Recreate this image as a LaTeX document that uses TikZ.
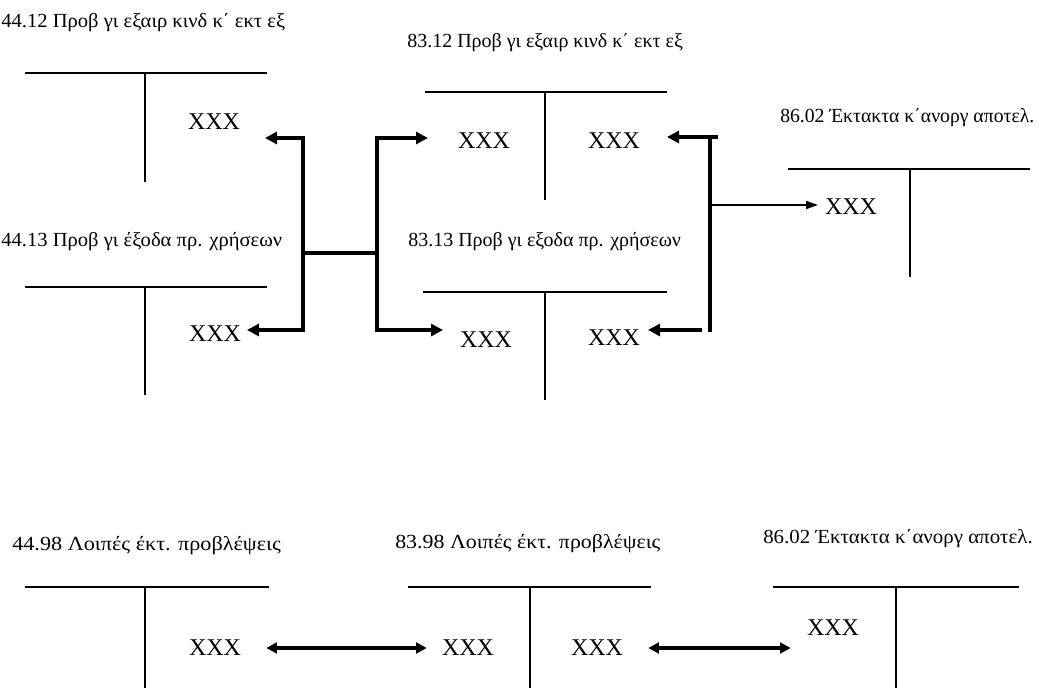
\documentclass[tikz,border=0pt]{standalone}
\usepackage{fontspec}
\usepackage{graphicx}
\setmainfont{Liberation Serif}
\usetikzlibrary{arrows.meta}
% horizontally widened title text
\newcommand\widetitle[2]{\scalebox{#1}[1]{#2}}
\begin{document}
\begin{tikzpicture}[x=0.75pt,y=-0.75pt,
  acct/.style={line width=1.1pt},
  acctv/.style={line width=0.9pt},
  lbl/.style={anchor=base west,inner sep=0pt,font=\fontsize{15}{17}\selectfont},
  amt/.style={inner sep=0pt,font=\fontsize{18}{20}\selectfont},
  bar/.style={line width=3.6pt},
  bararrow/.style={line width=3.6pt,-{Triangle[length=9pt,width=9pt]}},
  duo/.style={line width=3pt,{Triangle[length=8pt,width=8pt]}-{Triangle[length=8pt,width=8pt]}},
  thinarrow/.style={line width=1.2pt,-{Triangle[length=9pt,width=6pt]}}]
\useasboundingbox (0,0) rectangle (1040,688);
\fill[white] (0,0) rectangle (1040,688);

% ---- account titles
\node[lbl] (l1) at (1,28) {\widetitle{1.03}{44.12 Προβ γι εξαιρ κινδ κ΄ εκτ εξ}};
\node[lbl] (l2) at (407,48) {83.12 Προβ γι εξαιρ κινδ κ΄ εκτ εξ};
\node[lbl] (l3) at (780,123) {\widetitle{0.985}{86.02 Έκτακτα κ΄ανοργ αποτελ.}};
\node[lbl] (l4) at (1,247) {\widetitle{1.03}{44.13 Προβ γι έξοδα πρ. χρήσεων}};
\node[lbl] (l5) at (408,247) {83.13 Προβ γι εξοδα πρ. χρήσεων};
\node[lbl] (l6) at (12,550) {\widetitle{1.11}{44.98 Λοιπές έκτ. προβλέψεις}};
\node[lbl] (l7) at (395,548) {\widetitle{1.095}{83.98 Λοιπές έκτ. προβλέψεις}};
\node[lbl] (l8) at (763,543) {\widetitle{1.045}{86.02 Έκτακτα κ΄ανοργ αποτελ.}};

% ---- T-accounts
\draw[acct] (25,73) -- (267,73);   \draw[acctv] (145,73) -- (145,182);
\draw[acct] (425,92) -- (667,92);  \draw[acctv] (545,92) -- (545,200);
\draw[acct] (788,169) -- (1030,169); \draw[acctv] (910,169) -- (910,277);
\draw[acct] (25,287) -- (267,287); \draw[acctv] (145,287) -- (145,395);
\draw[acct] (423,292) -- (667,292); \draw[acctv] (545,292) -- (545,400);
\draw[acct] (25,587) -- (269,587); \draw[acctv] (145,587) -- (145,690);
\draw[acct] (408,587) -- (651,587); \draw[acctv] (530,587) -- (530,690);
\draw[acct] (773,587) -- (1019,587); \draw[acctv] (896,587) -- (896,690);

% ---- amounts
\node[amt] (a1) at (214,122) {XXX};
\node[amt] (a2) at (215,334) {XXX};
\node[amt] (b1) at (484,141) {XXX};
\node[amt] (b2) at (614,141) {XXX};
\node[amt] (c1) at (486,340) {XXX};
\node[amt] (c2) at (614,338) {XXX};
\node[amt] (d1) at (851,207) {XXX};
\node[amt] (e1) at (215,648) {XXX};
\node[amt] (f1) at (468,648) {XXX};
\node[amt] (f2) at (597,648) {XXX};
\node[amt] (g1) at (833,628) {XXX};

% ---- transfer from 44.12 / 44.13 to 83.12 / 83.13
\coordinate (hl) at (303,253);
\coordinate (hr) at (377,253);
\coordinate (ta1) at (265,138);
\coordinate (ta2) at (247,330);
\coordinate (tb1) at (428,138);
\coordinate (tc1) at (443,330);
\draw[bar] (hl) -- (hr);
\draw[bararrow] (hl) |- (ta1);
\draw[bararrow] (hl) |- (ta2);
\draw[bararrow] (hr) |- (tb1);
\draw[bararrow] (hr) |- (tc1);

% ---- closing of 83.12 / 83.13 to 86.02
\coordinate (rt) at (710,136);
\coordinate (rb) at (710,332);
\coordinate (rs1) at (718,137);
\coordinate (tb2) at (667,137);
\coordinate (rs2) at (702,330);
\coordinate (tc2) at (648,330);
\coordinate (rm) at (712,205);
\coordinate (td1) at (818,205);
\draw[bar] (rt) -- (rb);
\draw[bararrow] (rs1) -- (tb2);
\draw[bararrow] (rs2) -- (tc2);
\draw[thinarrow] (rm) -- (td1);

% ---- other provisions
\draw[duo,shorten <=18.75pt,shorten >=11.25pt] (e1.east) -- (f1.west);
\draw[duo,shorten <=18.75pt,shorten >=12pt] (f2.east) -- (g1.west |- f2.east);
\end{tikzpicture}
\end{document}
